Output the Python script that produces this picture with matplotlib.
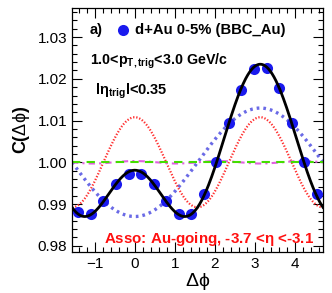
import numpy as np
import matplotlib
matplotlib.use("Agg")
import matplotlib.pyplot as plt
from matplotlib.ticker import MultipleLocator

plt.rcParams["font.family"] = ["Liberation Sans", "DejaVu Sans"]
plt.rcParams["mathtext.fontset"] = "custom"
plt.rcParams["mathtext.rm"] = "Liberation Sans"
plt.rcParams["mathtext.it"] = "Liberation Sans"
plt.rcParams["mathtext.bf"] = "Liberation Sans:bold"

# data points (d+Au 0-5%, BBC_Au)
dphi = [-1.414, -1.100, -0.785, -0.471, -0.157, 0.157, 0.471, 0.785, 1.100, 1.414,
        1.728, 2.042, 2.356, 2.670, 2.985, 3.299, 3.613, 3.927, 4.241, 4.555]
corr = [0.9880, 0.9875, 0.9907, 0.9949, 0.9971, 0.9971, 0.9947, 0.9908, 0.9877, 0.9877,
        0.9925, 1.0001, 1.0094, 1.0173, 1.0224, 1.0227, 1.0178, 1.0094, 1.0001, 0.9925]

# Fourier fit components: C = 1 + sum 2 c_n cos(n dphi)
c1 = -0.0065
c2 = 0.0054
c3 = 0.00015

phi = np.linspace(-np.pi / 2, 3 * np.pi / 2, 400)
comp1 = 1 + 2 * c1 * np.cos(phi)
comp2 = 1 + 2 * c2 * np.cos(2 * phi)
comp3 = 1 + 2 * c3 * np.cos(3 * phi)
total = 1 + 2 * c1 * np.cos(phi) + 2 * c2 * np.cos(2 * phi) + 2 * c3 * np.cos(3 * phi)

fig = plt.figure(figsize=(3.32, 2.93), dpi=100)
ax = fig.add_axes([0.217, 0.140, 0.756, 0.833])

ax.plot(phi, comp1, color="#6a6ae6", lw=2.4, ls=(0, (0.8, 1.2)), zorder=2)
ax.plot(phi, comp2, color="#ff3030", lw=1.6, ls=(0, (0.6, 0.8)), zorder=2)
ax.plot(phi, comp3, color="#e060e0", lw=1.5, ls=(0, (3, 2, 1, 2)), zorder=2)
ax.axhline(1.0, color="#44dd00", lw=1.5, ls=(0, (4, 3)), zorder=2)
ax.plot(dphi, corr, "o", color="#1a1aee", ms=8, mec="none", zorder=3)
ax.plot(phi, total, color="black", lw=2.0, zorder=4)

ax.set_xlim(-np.pi / 2, 3 * np.pi / 2)
ax.set_ylim(0.9785, 1.037)
ax.xaxis.set_major_locator(MultipleLocator(1))
ax.xaxis.set_minor_locator(MultipleLocator(0.2))
ax.yaxis.set_major_locator(MultipleLocator(0.01))
ax.yaxis.set_minor_locator(MultipleLocator(0.002))
ax.yaxis.set_major_formatter(matplotlib.ticker.FormatStrFormatter("%.2f"))
ax.tick_params(which="both", direction="in", top=True, right=True, labelsize=11, width=0.8)
ax.tick_params(which="major", length=7)
ax.tick_params(which="minor", length=3.5)
for s in ax.spines.values():
    s.set_linewidth(0.9)

ax.set_ylabel(r"C($\Delta\phi$)", fontsize=13, fontweight="bold", labelpad=4)
ax.set_xlabel(r"$\Delta\phi$", fontsize=14, labelpad=0)

ax.text(0.07, 0.91, "a)", transform=ax.transAxes, fontsize=10.5, fontweight="bold", va="center")
ax.plot([0.205], [0.91], "o", transform=ax.transAxes, color="#1a1aee", ms=8, mec="none")
ax.text(0.25, 0.91, "d+Au 0-5% (BBC_Au)", transform=ax.transAxes, fontsize=10.7,
        fontweight="bold", va="center")
ax.text(0.07, 0.78, r"1.0<p$_{\mathbf{T,trig}}$<3.0 GeV/c", transform=ax.transAxes,
        fontsize=10.3, fontweight="bold", va="center")
ax.text(0.09, 0.66, r"l$\mathbf{\eta}_{\mathbf{trig}}$l<0.35", transform=ax.transAxes,
        fontsize=10.5, fontweight="bold", va="center")
ax.text(0.963, 0.055, r"Asso: Au-going, -3.7 <$\mathbf{\eta}$ <-3.1", transform=ax.transAxes,
        fontsize=10.9, fontweight="bold", color="#ff1010", ha="right", va="center")

fig.savefig("out.png", dpi=100)
